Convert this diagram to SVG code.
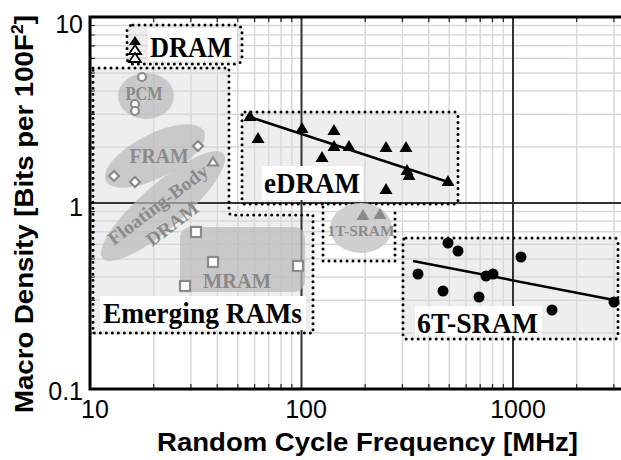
<svg xmlns="http://www.w3.org/2000/svg" width="621" height="460" viewBox="0 0 621 460">
  <style>
    .minor { stroke: #d9d9d9; stroke-width: 1.5; fill: none; }
    .major { stroke: #333; stroke-width: 2; fill: none; }
    .tick { stroke: #222; stroke-width: 1.2; }
    .frame { stroke: #000; stroke-width: 3; fill: none; }
    .dots { fill: none; stroke: #000; stroke-width: 3; stroke-dasharray: 0 6; stroke-linecap: round; stroke-linejoin: round; }
    .area { fill: #eeeeee; }
    .blob { fill: #b9b9b9; fill-opacity: 0.7; }
    .lbl { font-family: "Liberation Serif", "Times New Roman", serif; font-weight: bold; font-size: 29px; fill: #000; }
    .glbl { font-family: "Liberation Serif", "Times New Roman", serif; font-weight: bold; fill: #8a8a8a; text-anchor: middle; }
    .ax { font-family: "Liberation Sans", Arial, sans-serif; font-size: 25px; fill: #000; }
    .axt { font-family: "Liberation Sans", Arial, sans-serif; font-weight: bold; font-size: 26px; fill: #000; }
    .trend { stroke: #000; stroke-width: 2.5; fill: none; }
    .bk { fill: #000; }
    .hollow { fill: #fff; stroke: #000; stroke-width: 1.8; }
    .ghollow { fill: #fff; stroke: #8a8a8a; stroke-width: 2.2; }
    .gfill { fill: #8a8a8a; }
  </style>
  <defs>
    <path id="tri" d="M0,-6 L6.5,5 L-6.5,5 Z"/>
    <path id="tri-s" d="M0,-4.5 L5,3.5 L-5,3.5 Z"/>
    <path id="tri-m" d="M0,-5 L6,4 L-6,4 Z"/>
    <path id="dia" d="M0,-5 L5,0 L0,5 L-5,0 Z"/>
    <rect id="sq" x="-5" y="-5" width="10" height="10"/>
  </defs>

  <rect width="621" height="460" fill="#fff"/>

  <!-- shaded region backgrounds -->
  <g id="region-fills">
    <rect class="area" x="127" y="25" width="115" height="39" rx="6"/>
    <path class="area" d="M93,68 H229 V211 Q229,215 233,215 H313 V333 H93 Z"/>
    <rect class="area" x="242" y="112" width="216" height="92" rx="3"/>
    <rect class="area" x="403" y="238" width="215" height="101" rx="3"/>
  </g>

  <!-- log grid -->
  <g id="grid">
    <path class="minor" d="M153.7,17V389 M190.9,17V389 M217.3,17V389 M237.8,17V389 M254.6,17V389 M268.7,17V389 M281,17V389 M291.8,17V389
      M365.2,17V389 M402.4,17V389 M428.8,17V389 M449.3,17V389 M466.1,17V389 M480.2,17V389 M492.5,17V389 M503.3,17V389
      M576.7,17V389 M613.9,17V389"/>
    <path class="minor" d="M90,147H621 M90,114.3H621 M90,91H621 M90,73H621 M90,58.3H621 M90,45.8H621 M90,35H621 M90,25.5H621
      M90,333H621 M90,300.3H621 M90,277H621 M90,259H621 M90,244.3H621 M90,231.8H621 M90,221H621 M90,211.5H621"/>
    <path class="major" d="M301.5,17V389 M513,17V389 M90,203H621"/>
    <path class="tick" d="M90,147h5 M90,114.3h5 M90,91h5 M90,73h5 M90,58.3h5 M90,45.8h5 M90,35h5 M90,25.5h5
      M90,333h5 M90,300.3h5 M90,277h5 M90,259h5 M90,244.3h5 M90,231.8h5 M90,221h5 M90,211.5h5
      M153.7,389v-5 M190.9,389v-5 M217.3,389v-5 M237.8,389v-5 M254.6,389v-5 M268.7,389v-5 M281,389v-5 M291.8,389v-5
      M365.2,389v-5 M402.4,389v-5 M428.8,389v-5 M449.3,389v-5 M466.1,389v-5 M480.2,389v-5 M492.5,389v-5 M503.3,389v-5
      M576.7,389v-5 M613.9,389v-5
      M153.7,17v5 M190.9,17v5 M217.3,17v5 M237.8,17v5 M254.6,17v5 M268.7,17v5 M281,17v5 M291.8,17v5
      M365.2,17v5 M402.4,17v5 M428.8,17v5 M449.3,17v5 M466.1,17v5 M480.2,17v5 M492.5,17v5 M503.3,17v5
      M576.7,17v5 M613.9,17v5"/>
  </g>

  <!-- axes -->
  <g id="axes">
    <path class="frame" d="M621,17 H90 V389 H621"/>
    <text class="ax" x="83" y="33" text-anchor="end">10</text>
    <text class="ax" x="83" y="216" text-anchor="end">1</text>
    <text class="ax" x="83" y="400" text-anchor="end">0.1</text>
    <text class="ax" x="95" y="418" text-anchor="middle">10</text>
    <text class="ax" x="306" y="418" text-anchor="middle">100</text>
    <text class="ax" x="518" y="418" text-anchor="middle">1000</text>
    <text class="axt" x="157" y="451" textLength="421" lengthAdjust="spacingAndGlyphs">Random Cycle Frequency [MHz]</text>
    <text class="axt" transform="translate(33,413) rotate(-90)" textLength="398" lengthAdjust="spacingAndGlyphs">Macro Density [Bits per 100F<tspan font-size="17" dy="-10">2</tspan><tspan dy="10">]</tspan></text>
  </g>

  <!-- emerging memories -->
  <g id="emerging">
    <ellipse class="blob" cx="146" cy="96" rx="28" ry="23"/>
    <ellipse class="blob" cx="155" cy="156" rx="55" ry="22" transform="rotate(-27 155 156)"/>
    <ellipse class="blob" cx="163" cy="206" rx="80" ry="22" transform="rotate(-41 163 206)"/>
    <rect class="blob" x="180" y="227" width="125" height="65" rx="11"/>
    <path class="dots" d="M93,68 H229 V211 Q229,215 233,215 H313 V333 H93 Z"/>
    <text class="glbl" x="144" y="100" font-size="19" textLength="37" lengthAdjust="spacingAndGlyphs">PCM</text>
    <text class="glbl" x="159" y="163" font-size="20" textLength="59" lengthAdjust="spacingAndGlyphs">FRAM</text>
    <g transform="translate(158,205) rotate(-37)">
      <text class="glbl" x="0" y="6" font-size="19" textLength="120" lengthAdjust="spacingAndGlyphs">Floating-Body</text>
      <text class="glbl" x="0" y="30" font-size="19" textLength="60" lengthAdjust="spacingAndGlyphs">DRAM</text>
    </g>
    <text class="glbl" x="237" y="288" font-size="20" textLength="68" lengthAdjust="spacingAndGlyphs">MRAM</text>
    <circle class="ghollow" cx="142" cy="77" r="4"/>
    <circle class="ghollow" cx="135" cy="104" r="4"/>
    <circle class="ghollow" cx="135" cy="111" r="4"/>
    <use href="#dia" class="ghollow" x="198" y="146"/>
    <use href="#dia" class="ghollow" x="114" y="176"/>
    <use href="#dia" class="ghollow" x="135" y="182"/>
    <use href="#tri-s" class="ghollow" x="213" y="162"/>
    <use href="#sq" class="ghollow" x="196" y="232"/>
    <use href="#sq" class="ghollow" x="213" y="262"/>
    <use href="#sq" class="ghollow" x="185" y="286"/>
    <use href="#sq" class="ghollow" x="298" y="266"/>
    <rect x="100" y="296" width="206" height="34" fill="#fff"/>
    <text class="lbl" x="103" y="323" font-size="28" textLength="199" lengthAdjust="spacingAndGlyphs">Emerging RAMs</text>
  </g>

  <!-- commodity DRAM -->
  <g id="dram">
    <rect class="dots" x="127" y="25" width="115" height="39" rx="6"/>
    <rect x="148" y="28" width="89" height="33" fill="#fff"/>
    <text class="lbl" x="150" y="57" textLength="82" lengthAdjust="spacingAndGlyphs">DRAM</text>
    <use href="#tri-m" class="bk" x="135" y="41"/>
    <use href="#tri-m" class="hollow" x="135" y="50"/>
    <use href="#tri-m" class="hollow" x="135" y="58"/>
  </g>

  <!-- embedded DRAM -->
  <g id="edram">
    <rect class="dots" x="242" y="112" width="216" height="92" rx="3"/>
    <rect x="262" y="166" width="101" height="34" fill="#fff"/>
    <text class="lbl" x="264" y="193" textLength="96" lengthAdjust="spacingAndGlyphs">eDRAM</text>
    <use href="#tri" class="bk" x="250" y="116"/>
    <use href="#tri" class="bk" x="258" y="138"/>
    <use href="#tri" class="bk" x="302" y="128"/>
    <use href="#tri" class="bk" x="334" y="130"/>
    <use href="#tri" class="bk" x="334" y="146"/>
    <use href="#tri" class="bk" x="349" y="146"/>
    <use href="#tri" class="bk" x="322" y="157"/>
    <use href="#tri" class="bk" x="386" y="147"/>
    <use href="#tri" class="bk" x="406" y="147"/>
    <use href="#tri" class="bk" x="407" y="170"/>
    <use href="#tri" class="bk" x="409" y="175"/>
    <use href="#tri" class="bk" x="448" y="181"/>
    <use href="#tri" class="bk" x="386" y="189"/>
  </g>

  <!-- 1T-SRAM -->
  <g id="sram-1t">
    <ellipse cx="361" cy="228" rx="31" ry="25" fill="#cfcfcf"/>
    <path class="dots" d="M323,207 V261 H395 V207"/>
    <text class="glbl" x="361" y="236" font-size="15" textLength="67" lengthAdjust="spacingAndGlyphs">1T-SRAM</text>
    <use href="#tri" class="gfill" x="363" y="215"/>
    <use href="#tri" class="gfill" x="380" y="214"/>
  </g>

  <!-- 6T-SRAM -->
  <g id="sram-6t">
    <rect class="dots" x="403" y="238" width="215" height="101" rx="3"/>
    <rect x="415" y="306" width="127" height="30" fill="#fff"/>
    <text class="lbl" x="417" y="333" textLength="121" lengthAdjust="spacingAndGlyphs">6T-SRAM</text>
    <circle class="bk" cx="448" cy="243" r="5.5"/>
    <circle class="bk" cx="458" cy="251" r="5.5"/>
    <circle class="bk" cx="418" cy="274" r="5.5"/>
    <circle class="bk" cx="443" cy="291" r="5.5"/>
    <circle class="bk" cx="479" cy="297" r="5.5"/>
    <circle class="bk" cx="486" cy="276" r="5.5"/>
    <circle class="bk" cx="493" cy="274" r="5.5"/>
    <circle class="bk" cx="521" cy="257" r="5.5"/>
    <circle class="bk" cx="552" cy="310" r="5.5"/>
    <circle class="bk" cx="614" cy="302" r="5.5"/>
  </g>

  <!-- trend lines -->
  <g id="connectors">
    <line class="trend" x1="250" y1="117" x2="448" y2="182"/>
    <line class="trend" x1="413" y1="261" x2="614" y2="300"/>
  </g>
</svg>
